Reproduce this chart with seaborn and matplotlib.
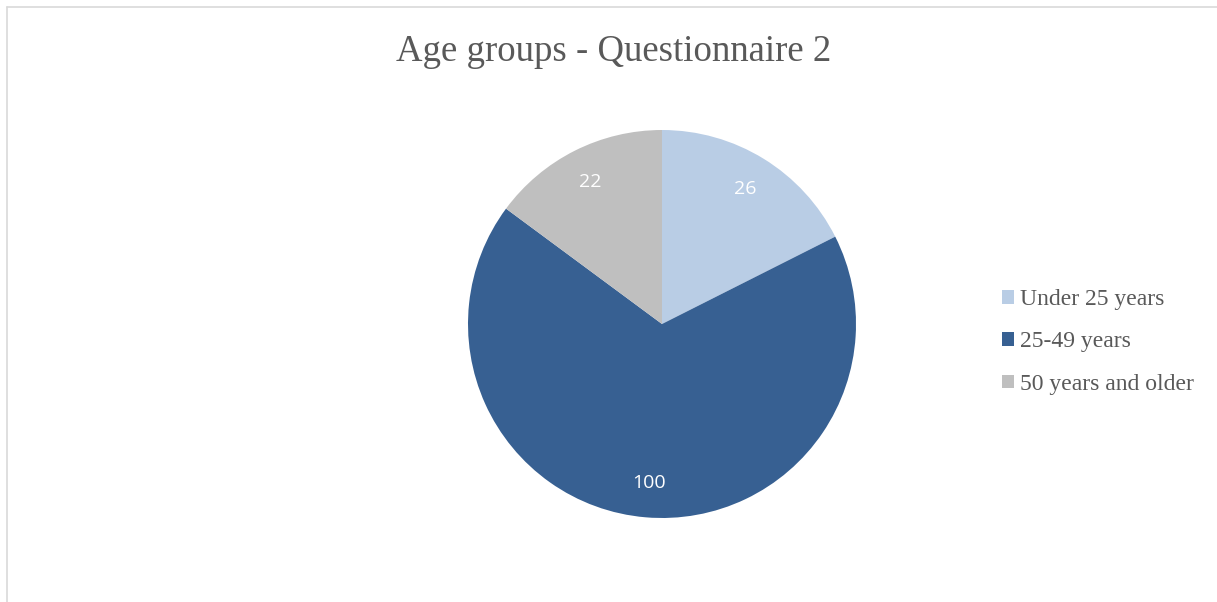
import matplotlib
matplotlib.use("Agg")
import matplotlib.pyplot as plt
from matplotlib.patches import Patch
from matplotlib.lines import Line2D
import seaborn as sns

# Respondents by age group
categories = ["Under 25 years", "25-49 years", "50 years and older"]
counts = [26, 100, 22]
colors = ["#B9CDE5", "#376092", "#BFBFBF"]
title = "Age groups - Questionnaire 2"

sns.set_theme(style="white")
plt.rcParams["font.family"] = ["Liberation Serif", "DejaVu Serif"]

W, H = 1217, 602
fig = plt.figure(figsize=(W / 100, H / 100), dpi=100)
fig.patch.set_facecolor("white")

# Pie area in pixel coordinates
cx, cy, r = 662, 324, 194
ax = fig.add_axes([(cx - r) / W, (H - cy - r) / H, 2 * r / W, 2 * r / H])

total = sum(counts)
wedges, _texts, autotexts = ax.pie(
    counts,
    colors=colors,
    startangle=90,
    counterclock=False,
    radius=1,
    autopct=lambda p: f"{round(p * total / 100):d}",
    pctdistance=0.82,
    wedgeprops=dict(linewidth=0),
    textprops=dict(color="white", fontsize=14, family=["Open Sans", "DejaVu Sans"]),
)
ax.set_xlim(-1, 1)
ax.set_ylim(-1, 1)
ax.set_aspect("equal")
ax.axis("off")

fig.text(614 / W, 1 - 52 / H, title, ha="center", va="center",
         fontsize=26.5, color="#595959")

handles = [Patch(facecolor=c, edgecolor="none") for c in colors]
leg = fig.legend(handles, categories, loc="center left",
                 bbox_to_anchor=(1002 / W, 1 - 342 / H),
                 frameon=False, fontsize=17, handlelength=0.5, handleheight=0.5,
                 handletextpad=0.25, labelspacing=0.9, borderaxespad=0, borderpad=0)
for t in leg.get_texts():
    t.set_color("#595959")

# Chart area outline (top and left edges visible)
edge = "#D9D9D9"
fig.add_artist(Line2D([7 / W, 1.0], [1 - 7 / H, 1 - 7 / H], color=edge, lw=1.2,
                      transform=fig.transFigure))
fig.add_artist(Line2D([7 / W, 7 / W], [0.0, 1 - 7 / H], color=edge, lw=1.2,
                      transform=fig.transFigure))

fig.savefig("out.png", dpi=100, facecolor="white")
